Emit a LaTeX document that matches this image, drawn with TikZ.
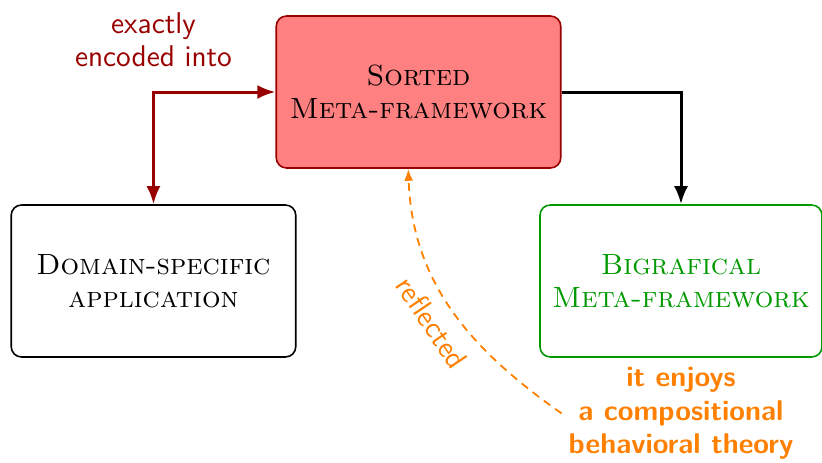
\documentclass[tikz,border=0pt]{standalone}
\usepackage{xcolor}
\usepackage{tikz}
\usetikzlibrary{arrows.meta,positioning,calc}
\definecolor{mydarkred}{RGB}{153,0,0}
\definecolor{mypink}{RGB}{255,128,128}
\definecolor{mygreen}{RGB}{0,153,0}
\definecolor{myorange}{RGB}{255,128,0}
\tikzset{
  framebox/.style={draw, thick, rounded corners=0.18cm, align=center, minimum width=5.0cm, minimum height=2.67cm, font=\fontsize{14.6}{16.6}\selectfont\scshape},
  link/.style={line width=1.5pt, -{Latex[length=9pt,width=7pt]}}
}

\begin{document}
\begin{tikzpicture}[every node/.style={font=\fontsize{15}{16.5}\selectfont\sffamily}]
  \useasboundingbox (0,0) rectangle (14.445,-8.119);

  % Frameworks
  \node[framebox, draw=mydarkred, fill=mypink] (sorted) at (7.354,-1.617) {Sorted\\Meta-framework};
  \node[framebox] (domain) at (2.697,-4.938) {Domain-specific\\application};
  \node[framebox, draw=mygreen, text=mygreen, minimum width=4.956cm] (bigraf) at (11.967,-4.938) {Bigrafical\\Meta-framework};

  % Theory
  \node[below=0.05cm of bigraf, align=center, text=myorange, font=\fontsize{14.3}{16.6}\selectfont\sffamily\bfseries] (theory) {it enjoys\\a compositional\\behavioral theory};

  % Arrows
  \draw[link, {Latex[length=9pt,width=7pt]}-{Latex[length=9pt,width=7pt]}, draw=mydarkred] (domain.north) |- node[pos=0.5, above=0.3cm, align=center, text=mydarkred] {exactly\\encoded into} (sorted.west);
  \draw[link] (sorted.east) -| (bigraf.north);
  \draw[myorange, line width=0.9pt, dash pattern=on 4pt off 3pt, -{Latex[length=6pt,width=4.5pt]}] (theory.west) to[out=145, in=-88] node[pos=0.5, sloped, below=0.1cm] {reflected} ($(sorted.south)+(-0.18,0)$);
\end{tikzpicture}
\end{document}
